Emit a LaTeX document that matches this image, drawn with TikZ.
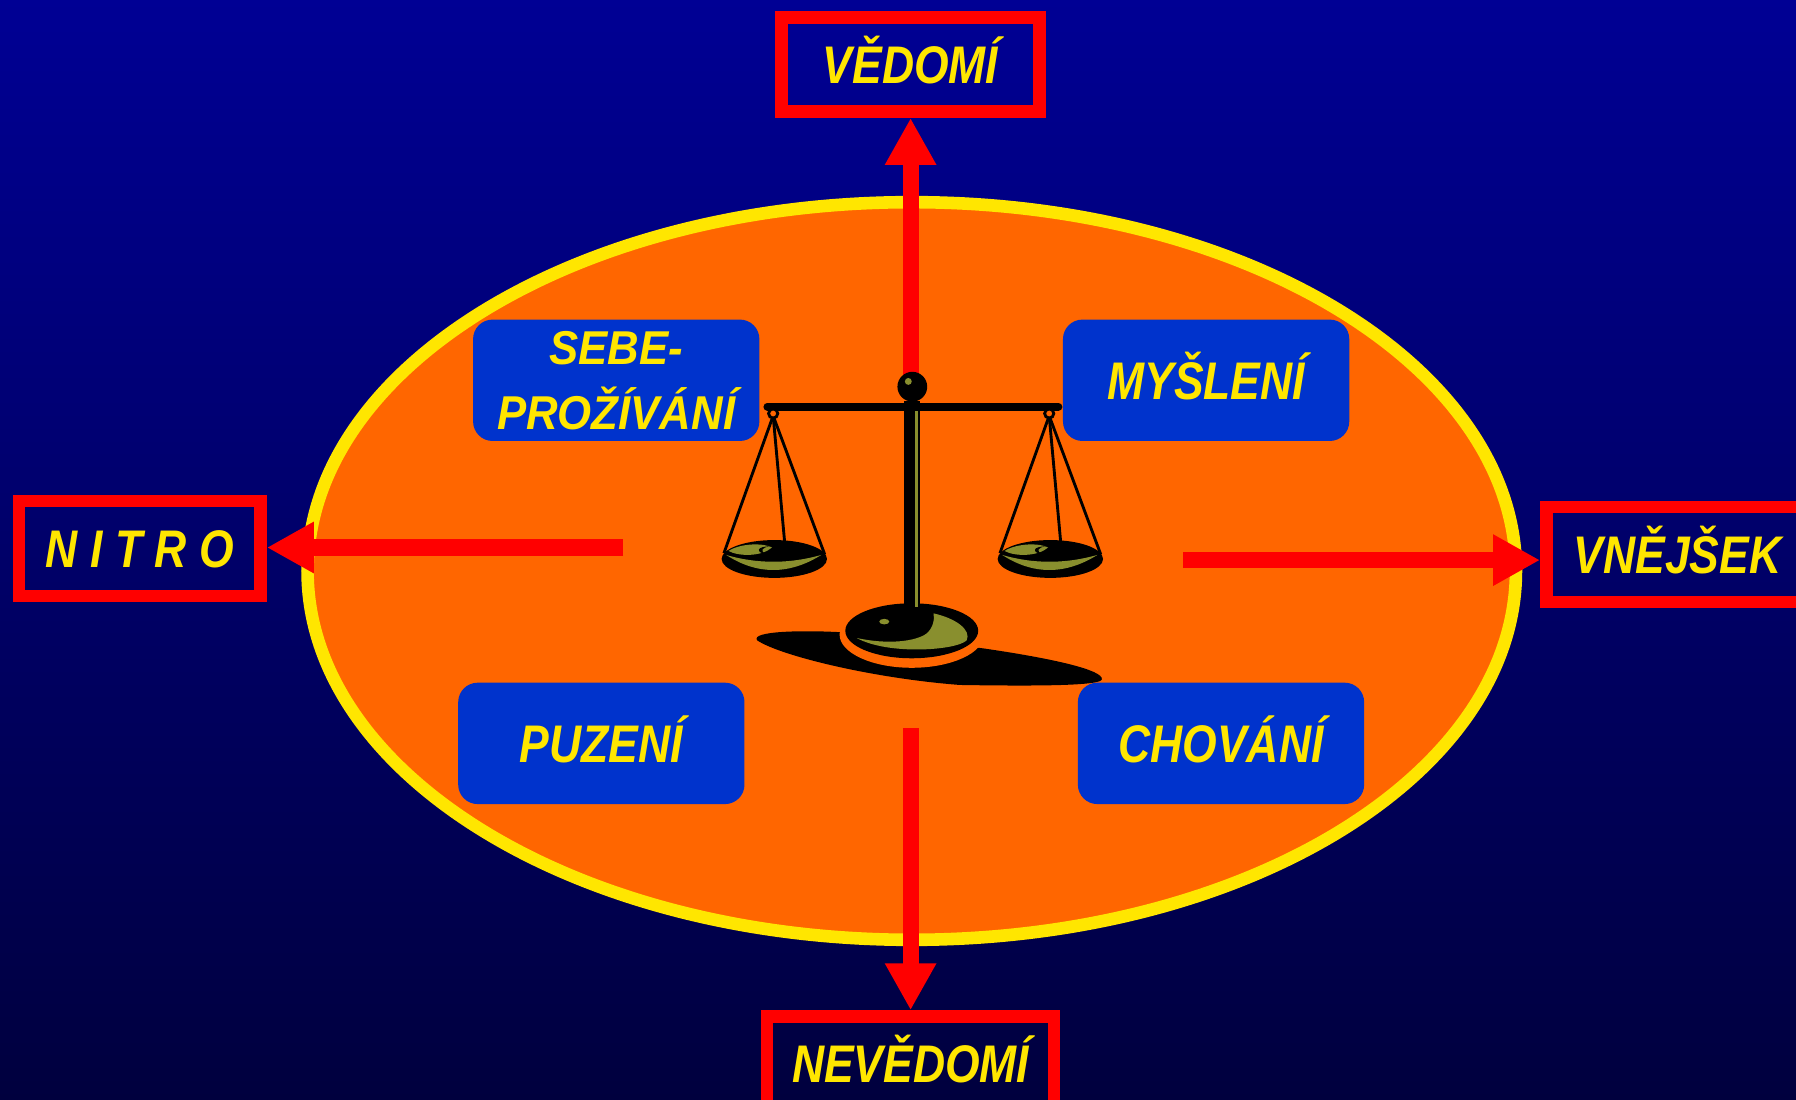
\documentclass[tikz,border=0pt]{standalone}
\usepackage{fontspec}
\newfontfamily\lblfont[FakeStretch=0.84]{Liberation Sans}
\newfontfamily\widefont[FakeStretch=0.92]{Liberation Sans}
\usetikzlibrary{arrows.meta}
\definecolor{bgtop}{RGB}{0,0,148}
\definecolor{bgbot}{RGB}{0,0,62}
\definecolor{disk}{RGB}{255,102,0}
\definecolor{rim}{RGB}{255,230,0}
\definecolor{boxblue}{RGB}{0,51,204}
\definecolor{pan}{RGB}{137,143,46}

\begin{document}
\begin{tikzpicture}[x=0.02cm,y=-0.02cm,
    lbl/.style={text=rim,font=\lblfont\bfseries\itshape\fontsize{26.3}{32}\selectfont,
        text height=18.8pt,text depth=0pt,inner sep=0pt},
    redbox/.style={lbl,draw=red,line width=0.22cm},
    bluebox/.style={lbl,fill=boxblue,rounded corners=0.34cm,minimum width=5cm,minimum height=2.12cm},
    arr/.style={draw=red,line width=0.28cm,-{Triangle[width=0.84cm,length=0.82cm]}}]
            % background
            \useasboundingbox (0,0) rectangle (1568,960);
            \clip (0,0) rectangle (1568,960);
            \shade[top color=bgtop,bottom color=bgbot] (0,0) rectangle (1568,960);
            \draw[rim,fill=disk,line width=0.22cm] (796,498.5) ellipse [x radius=527.5,y radius=322];
            % the four poles
            \node[redbox,minimum width=4.5cm,minimum height=1.64cm] (ved) at (795,56.5) {VĚDOMÍ};
            \node[redbox,minimum width=4.22cm,minimum height=1.66cm] (nitro) at (122,479) {N I T R O};
            \node[redbox,minimum width=4.58cm,minimum height=1.66cm] (vne) at (1464.5,484) {VNĚJŠEK};
            \node[redbox,minimum width=5.01cm,minimum height=1.64cm] (nev) at (795,928.5) {NEVĚDOMÍ};
            \coordinate (up) at (795,335);
            \coordinate (down) at (795,636);
            \coordinate (left) at (544,478);
            \coordinate (right) at (1033,489);
            \draw[arr] (up) -- (up |- ved.south);
            \draw[arr] (down) -- (down |- nev.north);
            \draw[arr] (left) -- (left -| nitro.east);
            \draw[arr] (right) -- (right -| vne.west);
            % the four boxes
            \node[bluebox,align=center,text height=,text depth=,
                font=\widefont\bfseries\itshape\fontsize{23.6}{32.4}\selectfont] (sebe) at (538,332) {SEBE-\\PROŽÍVÁNÍ};
            \foreach \n/\x/\y/\t in {mys/1053/332/MYŠLENÍ,puz/525/649/PUZENÍ,cho/1066/649/CHOVÁNÍ}
                \node[bluebox] (\n) at (\x,\y) {\t};
            % the scales
            \fill (661,559) .. controls (655,551) and (700,550) .. (735,552) -- (858,566)
                .. controls (920,575) and (963,585) .. (962,593) .. controls (962,599) and (900,599) .. (838,598)
                .. controls (760,592) and (680,572) .. (661,559);
            \fill[disk] (796,554) ellipse [x radius=63,y radius=29];
            \fill (796,550.7) ellipse [x radius=58,y radius=24];
            \fill[pan] (748,557) .. controls (775,563) and (800,560) .. (809,553) .. controls (815,548) and (816,540) .. (815,535.5)
                .. controls (835,540) and (848,550) .. (844,559) .. controls (835,568) and (775,572) .. (748,557);
            \fill[pan] (772,542.7) ellipse [x radius=4.4,y radius=2.4];
            \fill (789,350) rectangle (803,540);
            \draw[pan,line width=0.05cm] (800,356) -- (800,530);
            \draw[line width=0.14cm,line cap=round] (670,355) -- (924,355);
            \fill (796.5,337.6) circle [radius=13];
            \fill[pan] (793,333) circle [radius=3];
            \foreach \hx in {675,916} {
                \begin{scope}[shift={(\hx,0)}]
                    \draw[line width=0.05cm] (-43,483) -- (0,363) -- (45,484);
                    \draw[line width=0.05cm] (0,363) -- (10,473);
                    \draw[line width=0.05cm,fill=disk] (0,361) circle [radius=4];
                    \fill (1,488) ellipse [x radius=46,y radius=16.5];
                    \fill[pan] (-41,484.5) .. controls (-14,492.4) and (14,492.4) .. (42,484.5)
                        .. controls (14,502) and (-14,502) .. (-41,484.5);
                    \fill[pan] (-39,481) .. controls (-28,474) and (-8,474) .. (-1,478)
                        .. controls (-10,486) and (-30,486) .. (-39,481);
                    \fill (-3,477) .. controls (-14,477) and (-16,482) .. (-6,484) .. controls (-12,481) and (-10,478) .. (-3,477);
                \end{scope}
            }
        \end{tikzpicture}
\end{document}
